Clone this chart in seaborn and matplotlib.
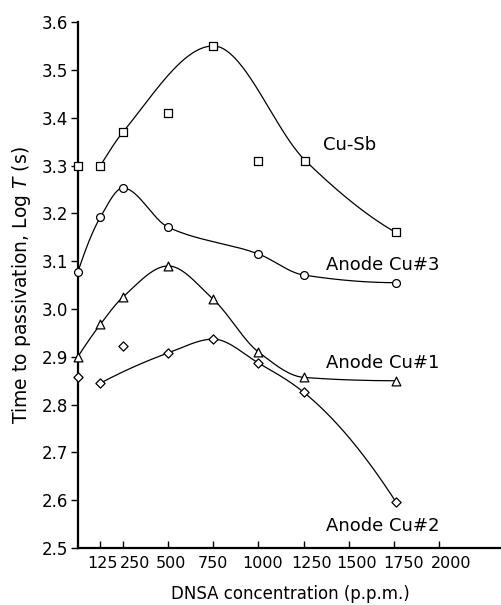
import numpy as np
import pandas as pd
import matplotlib
matplotlib.use("Agg")
import matplotlib.pyplot as plt
import matplotlib.transforms as mtransforms
import seaborn as sns

# ---- data ----
x_cusb = [0, 125, 250, 500, 750, 1000, 1260, 1760]
y_cusb = [3.30, 3.30, 3.37, 3.41, 3.55, 3.31, 3.31, 3.16]
curve_cusb = [False, True, True, False, True, False, True, True]

x_cu3 = [0, 125, 250, 500, 1000, 1250, 1760]
y_cu3 = [3.077, 3.192, 3.253, 3.171, 3.115, 3.071, 3.055]
curve_cu3 = [True, True, True, True, True, True, True]

x_cu1 = [0, 125, 250, 500, 750, 1000, 1250, 1760]
y_cu1 = [2.90, 2.968, 3.025, 3.09, 3.02, 2.91, 2.857, 2.85]
curve_cu1 = [True, True, True, True, True, True, True, True]

x_cu2 = [0, 125, 250, 500, 750, 1000, 1250, 1760]
y_cu2 = [2.857, 2.845, 2.922, 2.908, 2.937, 2.887, 2.826, 2.597]
curve_cu2 = [False, True, False, True, True, True, True, True]

labels = ["Cu-Sb", "Anode Cu#3", "Anode Cu#1", "Anode Cu#2"]
x_ticks = [125, 250, 500, 750, 1000, 1250, 1500, 1750, 2000]
y_ticks = [2.5, 2.6, 2.7, 2.8, 2.9, 3.0, 3.1, 3.2, 3.3, 3.4, 3.5, 3.6]


def pchip(x, y, xs):
    x = np.asarray(x, float)
    y = np.asarray(y, float)
    h = np.diff(x)
    d = np.diff(y) / h
    n = len(x)
    m = np.zeros(n)
    for k in range(1, n - 1):
        if d[k - 1] * d[k] > 0:
            w1 = 2 * h[k] + h[k - 1]
            w2 = h[k] + 2 * h[k - 1]
            m[k] = (w1 + w2) / (w1 / d[k - 1] + w2 / d[k])
    def end(h0, h1, d0, d1):
        mm = ((2 * h0 + h1) * d0 - h0 * d1) / (h0 + h1)
        if np.sign(mm) != np.sign(d0):
            mm = 0.0
        elif np.sign(d0) != np.sign(d1) and abs(mm) > abs(3 * d0):
            mm = 3 * d0
        return mm
    if n > 2:
        m[0] = end(h[0], h[1], d[0], d[1])
        m[-1] = end(h[-1], h[-2], d[-1], d[-2])
    else:
        m[:] = d[0]
    out = np.empty_like(xs)
    for i, xv in enumerate(xs):
        k = min(max(np.searchsorted(x, xv) - 1, 0), n - 2)
        t = (xv - x[k]) / h[k]
        h00 = 2 * t**3 - 3 * t**2 + 1
        h10 = t**3 - 2 * t**2 + t
        h01 = -2 * t**3 + 3 * t**2
        h11 = t**3 - t**2
        out[i] = h00 * y[k] + h10 * h[k] * m[k] + h01 * y[k + 1] + h11 * h[k] * m[k + 1]
    return out


sns.set_style("ticks")
plt.rcParams["font.family"] = ["DejaVu Sans"]
plt.rcParams["text.color"] = "black"
plt.rcParams["axes.labelcolor"] = "black"
plt.rcParams["xtick.color"] = "black"
plt.rcParams["ytick.color"] = "black"

fig = plt.figure(figsize=(5.02, 6.05), dpi=100)
ax = fig.add_axes([0.155, 0.094, 0.845, 0.8696])

series = [
    (x_cusb, y_cusb, curve_cusb, "s", 32),
    (x_cu3, y_cu3, curve_cu3, "o", 32),
    (x_cu1, y_cu1, curve_cu1, "^", 40),
    (x_cu2, y_cu2, curve_cu2, "D", 22),
]

for xs_, ys_, cv, mk, sz in series:
    xa = np.array(xs_, float)
    ya = np.array(ys_, float)
    sel = np.array(cv)
    xc, yc = xa[sel], ya[sel]
    xf = np.linspace(xc[0], xc[-1], 400)
    yf = pchip(xc, yc, xf)
    sns.lineplot(x=xf, y=yf, ax=ax, color="black", lw=0.9, sort=False,
                 estimator=None, zorder=2)
    sns.scatterplot(x=xa, y=ya, ax=ax, marker=mk, s=sz, facecolor="white",
                    edgecolor="black", linewidth=0.9, zorder=3, clip_on=False)

ax.set_xlim(0, 2348)
ax.set_ylim(2.5, 3.6)
ax.set_xticks(x_ticks)
ax.set_xticklabels([str(v) for v in x_ticks], fontsize=11.5, color="black")
ax.set_yticks(y_ticks)
ax.set_yticklabels([f"{v:.1f}" for v in y_ticks], fontsize=12, color="black")
ax.tick_params(axis="x", direction="in", length=5, width=1, pad=6, colors="black")
ax.tick_params(axis="y", direction="out", length=5, width=1, pad=2, colors="black")
for s in ["top", "right"]:
    ax.spines[s].set_visible(False)
for s in ["left", "bottom"]:
    ax.spines[s].set_linewidth(1.6)
    ax.spines[s].set_color("black")

# label offsets (pixels) as laid out in the reference
offsets_px = [2, 12, 3, 0, 4, 8, 8, 10, 12]
for lab, dx in zip(ax.get_xticklabels(), offsets_px):
    lab.set_transform(lab.get_transform() +
                      mtransforms.ScaledTranslation(dx / 100.0, 0, fig.dpi_scale_trans))

ax.set_xlabel("DNSA concentration (p.p.m.)", fontsize=12, labelpad=10, color="black")
ax.set_ylabel("Time to passivation, Log $\\mathit{T}$ (s)", fontsize=13.5, labelpad=6,
              color="black")

label_x = [1357, 1373, 1373, 1373]
label_y = [3.343, 3.092, 2.887, 2.546]
for t, lx, ly in zip(labels, label_x, label_y):
    ax.text(lx, ly, t, fontsize=13, va="center", ha="left", color="black")

fig.savefig("out.png", dpi=100)
